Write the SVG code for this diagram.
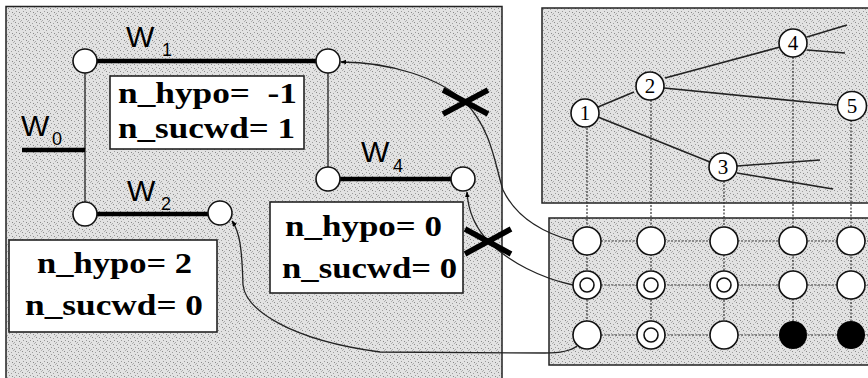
<svg xmlns="http://www.w3.org/2000/svg" width="868" height="378" viewBox="0 0 868 378">
<defs>
<pattern id="stip" width="7" height="7" patternUnits="userSpaceOnUse">
<rect width="7" height="7" fill="#e2e2e2"/>
<rect x="1" y="1" width="1" height="1" fill="#8a8a8a"/>
<rect x="4" y="2" width="1" height="1" fill="#a0a0a0"/>
<rect x="2" y="4" width="1" height="1" fill="#9a9a9a"/>
<rect x="5" y="5" width="1" height="1" fill="#888"/>
<rect x="6" y="0" width="1" height="1" fill="#b0b0b0"/>
<rect x="0" y="6" width="1" height="1" fill="#aaa"/>
</pattern>
<marker id="arr" viewBox="0 0 10 10" refX="9" refY="5" markerWidth="6" markerHeight="6" orient="auto" markerUnits="userSpaceOnUse">
<path d="M0,1 L10,5 L0,9 Z" fill="#000"/>
</marker>
<style>
.panel{fill:url(#stip);stroke:#222;stroke-width:1.5}
.thin{fill:none;stroke:#222;stroke-width:1.3}
.thick{fill:none;stroke:#000;stroke-width:4.5}
.nd{fill:#fff;stroke:#111;stroke-width:1.6}
.box{fill:#fff;stroke:#222;stroke-width:1.6}
.bt{font-family:"Liberation Serif","Times New Roman",serif;font-weight:bold;font-size:30px;fill:#000}
.wl{font-family:"Liberation Sans",Arial,sans-serif;font-size:30px;fill:#000}
.ws{font-family:"Liberation Sans",Arial,sans-serif;font-size:18px;fill:#000}
.tn{font-family:"Liberation Serif","Times New Roman",serif;font-size:21px;fill:#000;text-anchor:middle}
.dot{fill:none;stroke:#333;stroke-width:1.2;stroke-dasharray:2 1.5}
.edge{fill:none;stroke:#222;stroke-width:1.6}
.cur{fill:none;stroke:#222;stroke-width:1.3}
.x{fill:none;stroke:#000;stroke-width:5.5}
</style>
</defs>
<rect width="868" height="378" fill="#fff"/>
<!-- panels -->
<rect class="panel" x="6" y="6.5" width="496" height="380"/>
<rect class="panel" x="542" y="8" width="340" height="195"/>
<rect class="panel" x="549" y="218" width="330" height="147"/>

<!-- left panel structure -->
<g id="wgraph">
<line class="thin" x1="85" y1="61" x2="85" y2="214"/>
<line class="thin" x1="328" y1="61" x2="328" y2="179"/>
<line class="thick" x1="22" y1="150" x2="85" y2="150"/>
<line class="thick" x1="85" y1="61" x2="328" y2="61"/>
<line class="thick" x1="85" y1="214" x2="220" y2="214"/>
<line class="thick" x1="328" y1="179" x2="463" y2="179"/>
</g>
<g id="w1a"><circle class="nd" cx="85" cy="61" r="12"/></g>
<g id="w1b"><circle class="nd" cx="328" cy="61" r="12"/></g>
<g id="w2a"><circle class="nd" cx="85" cy="214" r="12"/></g>
<g id="w2b"><circle class="nd" cx="220" cy="213" r="12"/></g>
<g id="w4a"><circle class="nd" cx="328" cy="179" r="12"/></g>
<g id="w4b"><circle class="nd" cx="463" cy="179" r="12"/></g>
<g id="labels">
<text class="wl" x="126" y="47">W</text><text class="ws" x="162" y="56">1</text>
<text class="wl" x="21" y="136">W</text><text class="ws" x="52" y="145">0</text>
<text class="wl" x="127" y="201">W</text><text class="ws" x="161" y="210">2</text>
<text class="wl" x="361" y="162">W</text><text class="ws" x="393" y="172">4</text>
</g>

<g id="box1">
<rect class="box" x="110" y="76" width="194" height="73"/>
<text class="bt" x="118" y="103" textLength="179" lengthAdjust="spacingAndGlyphs" xml:space="preserve">n_hypo=  -1</text>
<text class="bt" x="118" y="138" textLength="177" lengthAdjust="spacingAndGlyphs">n_sucwd= 1</text>
</g>
<g id="box2">
<rect class="box" x="270" y="202" width="193" height="91"/>
<text class="bt" x="285" y="236" textLength="157" lengthAdjust="spacingAndGlyphs">n_hypo= 0</text>
<text class="bt" x="282" y="278" textLength="175" lengthAdjust="spacingAndGlyphs">n_sucwd= 0</text>
</g>
<g id="box3">
<rect class="box" x="9" y="240" width="208" height="92"/>
<text class="bt" x="37" y="273" textLength="155" lengthAdjust="spacingAndGlyphs">n_hypo= 2</text>
<text class="bt" x="25" y="315" textLength="178" lengthAdjust="spacingAndGlyphs">n_sucwd= 0</text>
</g>

<!-- tree & grid connectors -->
<g id="connectors">
<line class="edge" x1="598" y1="107" x2="634" y2="92"/>
<line class="edge" x1="665" y1="78" x2="780" y2="47"/>
<line class="edge" x1="664" y1="88" x2="837" y2="105"/>
<line class="edge" x1="598" y1="117" x2="710" y2="162"/>
<line class="edge" x1="807" y1="37" x2="847" y2="25"/>
<line class="edge" x1="807" y1="50" x2="845" y2="53"/>
<line class="edge" x1="737" y1="166" x2="820" y2="160"/>
<line class="edge" x1="737" y1="173" x2="833" y2="189"/>
<line class="dot" x1="587" y1="128" x2="587" y2="335"/>
<line class="dot" x1="651" y1="100" x2="651" y2="335"/>
<line class="dot" x1="724" y1="181" x2="724" y2="335"/>
<line class="dot" x1="793" y1="57" x2="793" y2="335"/>
<line class="dot" x1="851" y1="120" x2="851" y2="335"/>
<line class="dot" x1="587" y1="241" x2="868" y2="241"/>
<line class="dot" x1="587" y1="285" x2="868" y2="285"/>
<line class="dot" x1="587" y1="335" x2="868" y2="335"/>
<path class="cur" marker-end="url(#arr)" d="M573,241 C540,232 515,215 503,190 C495,165 492,130 465,102 C440,78 390,62 341,62"/>
<path class="cur" marker-end="url(#arr)" d="M573,285 C540,278 510,262 490,243 C475,228 468,210 467,192"/>
<path class="cur" marker-end="url(#arr)" d="M577,346 C572,350 560,353 545,353 L380,352 C290,340 246,310 243,285 C242,250 240,232 232,221"/>
<path class="x" d="M443,90 L488,114 M443,114 L488,90"/>
<path class="x" d="M465,229 L511,254 M465,254 L511,229"/>
</g>

<!-- tree nodes -->
<g id="t1"><circle class="nd" cx="585" cy="113" r="14"/><text class="tn" x="585" y="120">1</text></g>
<g id="t2"><circle class="nd" cx="650" cy="86" r="14"/><text class="tn" x="650" y="93">2</text></g>
<g id="t3"><circle class="nd" cx="723" cy="167" r="14"/><text class="tn" x="723" y="174">3</text></g>
<g id="t4"><circle class="nd" cx="793" cy="43" r="14"/><text class="tn" x="793" y="50">4</text></g>
<g id="t5"><circle class="nd" cx="852" cy="106" r="14.5"/><text class="tn" x="852" y="113">5</text></g>

<!-- grid nodes -->
<g id="g11"><circle class="nd" cx="587" cy="241" r="14"/></g>
<g id="g12"><circle class="nd" cx="651" cy="241" r="14"/></g>
<g id="g13"><circle class="nd" cx="724" cy="241" r="14"/></g>
<g id="g14"><circle class="nd" cx="793" cy="241" r="14"/></g>
<g id="g15"><circle class="nd" cx="851" cy="241" r="14"/></g>
<g id="g21"><circle class="nd" cx="587" cy="285" r="14"/><circle class="nd" cx="587" cy="285" r="7"/></g>
<g id="g22"><circle class="nd" cx="651" cy="285" r="14"/><circle class="nd" cx="651" cy="285" r="7"/></g>
<g id="g23"><circle class="nd" cx="724" cy="285" r="14"/><circle class="nd" cx="724" cy="285" r="7"/></g>
<g id="g24"><circle class="nd" cx="793" cy="285" r="14"/></g>
<g id="g25"><circle class="nd" cx="851" cy="285" r="14"/></g>
<g id="g31"><circle class="nd" cx="587" cy="335" r="14"/></g>
<g id="g32"><circle class="nd" cx="651" cy="335" r="14"/><circle class="nd" cx="651" cy="335" r="7"/></g>
<g id="g33"><circle class="nd" cx="724" cy="335" r="14"/></g>
<g id="g34"><circle cx="793" cy="335" r="14" fill="#000"/></g>
<g id="g35"><circle cx="851" cy="335" r="14" fill="#000"/></g>
</svg>
